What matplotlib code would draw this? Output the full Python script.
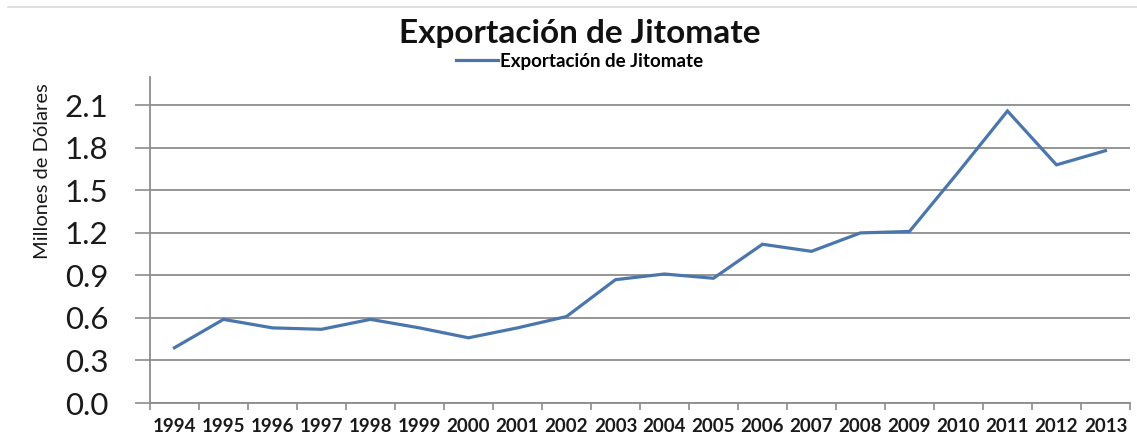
"""Exportación de Jitomate, 1994-2013 (millones de dólares)."""

import matplotlib

matplotlib.use("Agg")
import matplotlib.pyplot as plt
import numpy as np
from matplotlib.lines import Line2D

years = [str(y) for y in range(1994, 2014)]
exportacion = [0.39, 0.59, 0.53, 0.52, 0.59, 0.53, 0.46, 0.53, 0.61, 0.87,
               0.91, 0.88, 1.12, 1.07, 1.20, 1.21, 1.63, 2.06, 1.68, 1.78]
y_ticks = [0.0, 0.3, 0.6, 0.9, 1.2, 1.5, 1.8, 2.1]

LINE_COLOR = "#4A76AC"
GRID_COLOR = "#8C8C8C"

plt.rcParams["font.family"] = ["Lato", "DejaVu Sans"]

fig = plt.figure(figsize=(11.37, 4.46), dpi=100)
ax = fig.add_axes([0.1319, 0.0964, 0.8619, 0.7310])

xs = np.arange(len(years)) + 0.5
ax.plot(xs, exportacion, color=LINE_COLOR, lw=2.3, solid_joinstyle="miter")

ax.set_xlim(0, len(years))
ax.set_ylim(0, 2.3)

# marcas entre categorías, etiquetas centradas en cada año
ax.set_xticks(np.arange(len(years) + 1))
ax.set_xticklabels([])
ax.set_xticks(xs, minor=True)
ax.set_xticklabels(years, minor=True, fontsize=13.5, fontweight="bold", color="#1a1a1a")
ax.tick_params(axis="x", which="major", length=5, width=1.2, color=GRID_COLOR)
ax.tick_params(axis="x", which="minor", length=0, pad=11)

ax.set_yticks(y_ticks)
ax.set_yticklabels([f"{v:.1f}" for v in y_ticks], fontsize=22.5, color="#1a1a1a")
ax.tick_params(axis="y", length=11, width=1.2, color=GRID_COLOR, pad=19)

ax.grid(axis="y", color=GRID_COLOR, lw=1.3)
ax.set_axisbelow(True)
for side in ("top", "right"):
    ax.spines[side].set_visible(False)
for side in ("left", "bottom"):
    ax.spines[side].set_color(GRID_COLOR)
    ax.spines[side].set_linewidth(1.3)

# título del eje, desplazado hacia arriba
fig.text(43 / 1137, 1 - 171 / 446, "Millones de Dólares", rotation=90,
         ha="center", va="center", fontsize=14.5, color="#1a1a1a")

fig.text(0.510, 0.926, "Exportación de Jitomate", ha="center", va="center",
         fontsize=24, fontweight="bold", color="#111111")

handle = Line2D([], [], color=LINE_COLOR, lw=2.3)
fig.legend([handle], ["Exportación de Jitomate"], loc="center",
           bbox_to_anchor=(0.510, 0.863), frameon=False,
           prop={"weight": "bold", "size": 13.5}, handlelength=2.2,
           handletextpad=0.15, borderpad=0)

# borde superior del gráfico
fig.add_artist(Line2D([0.007, 1.0], [0.984, 0.984], transform=fig.transFigure,
                      color="#d9d9d9", lw=1.2))

fig.savefig("out.png", dpi=100)
